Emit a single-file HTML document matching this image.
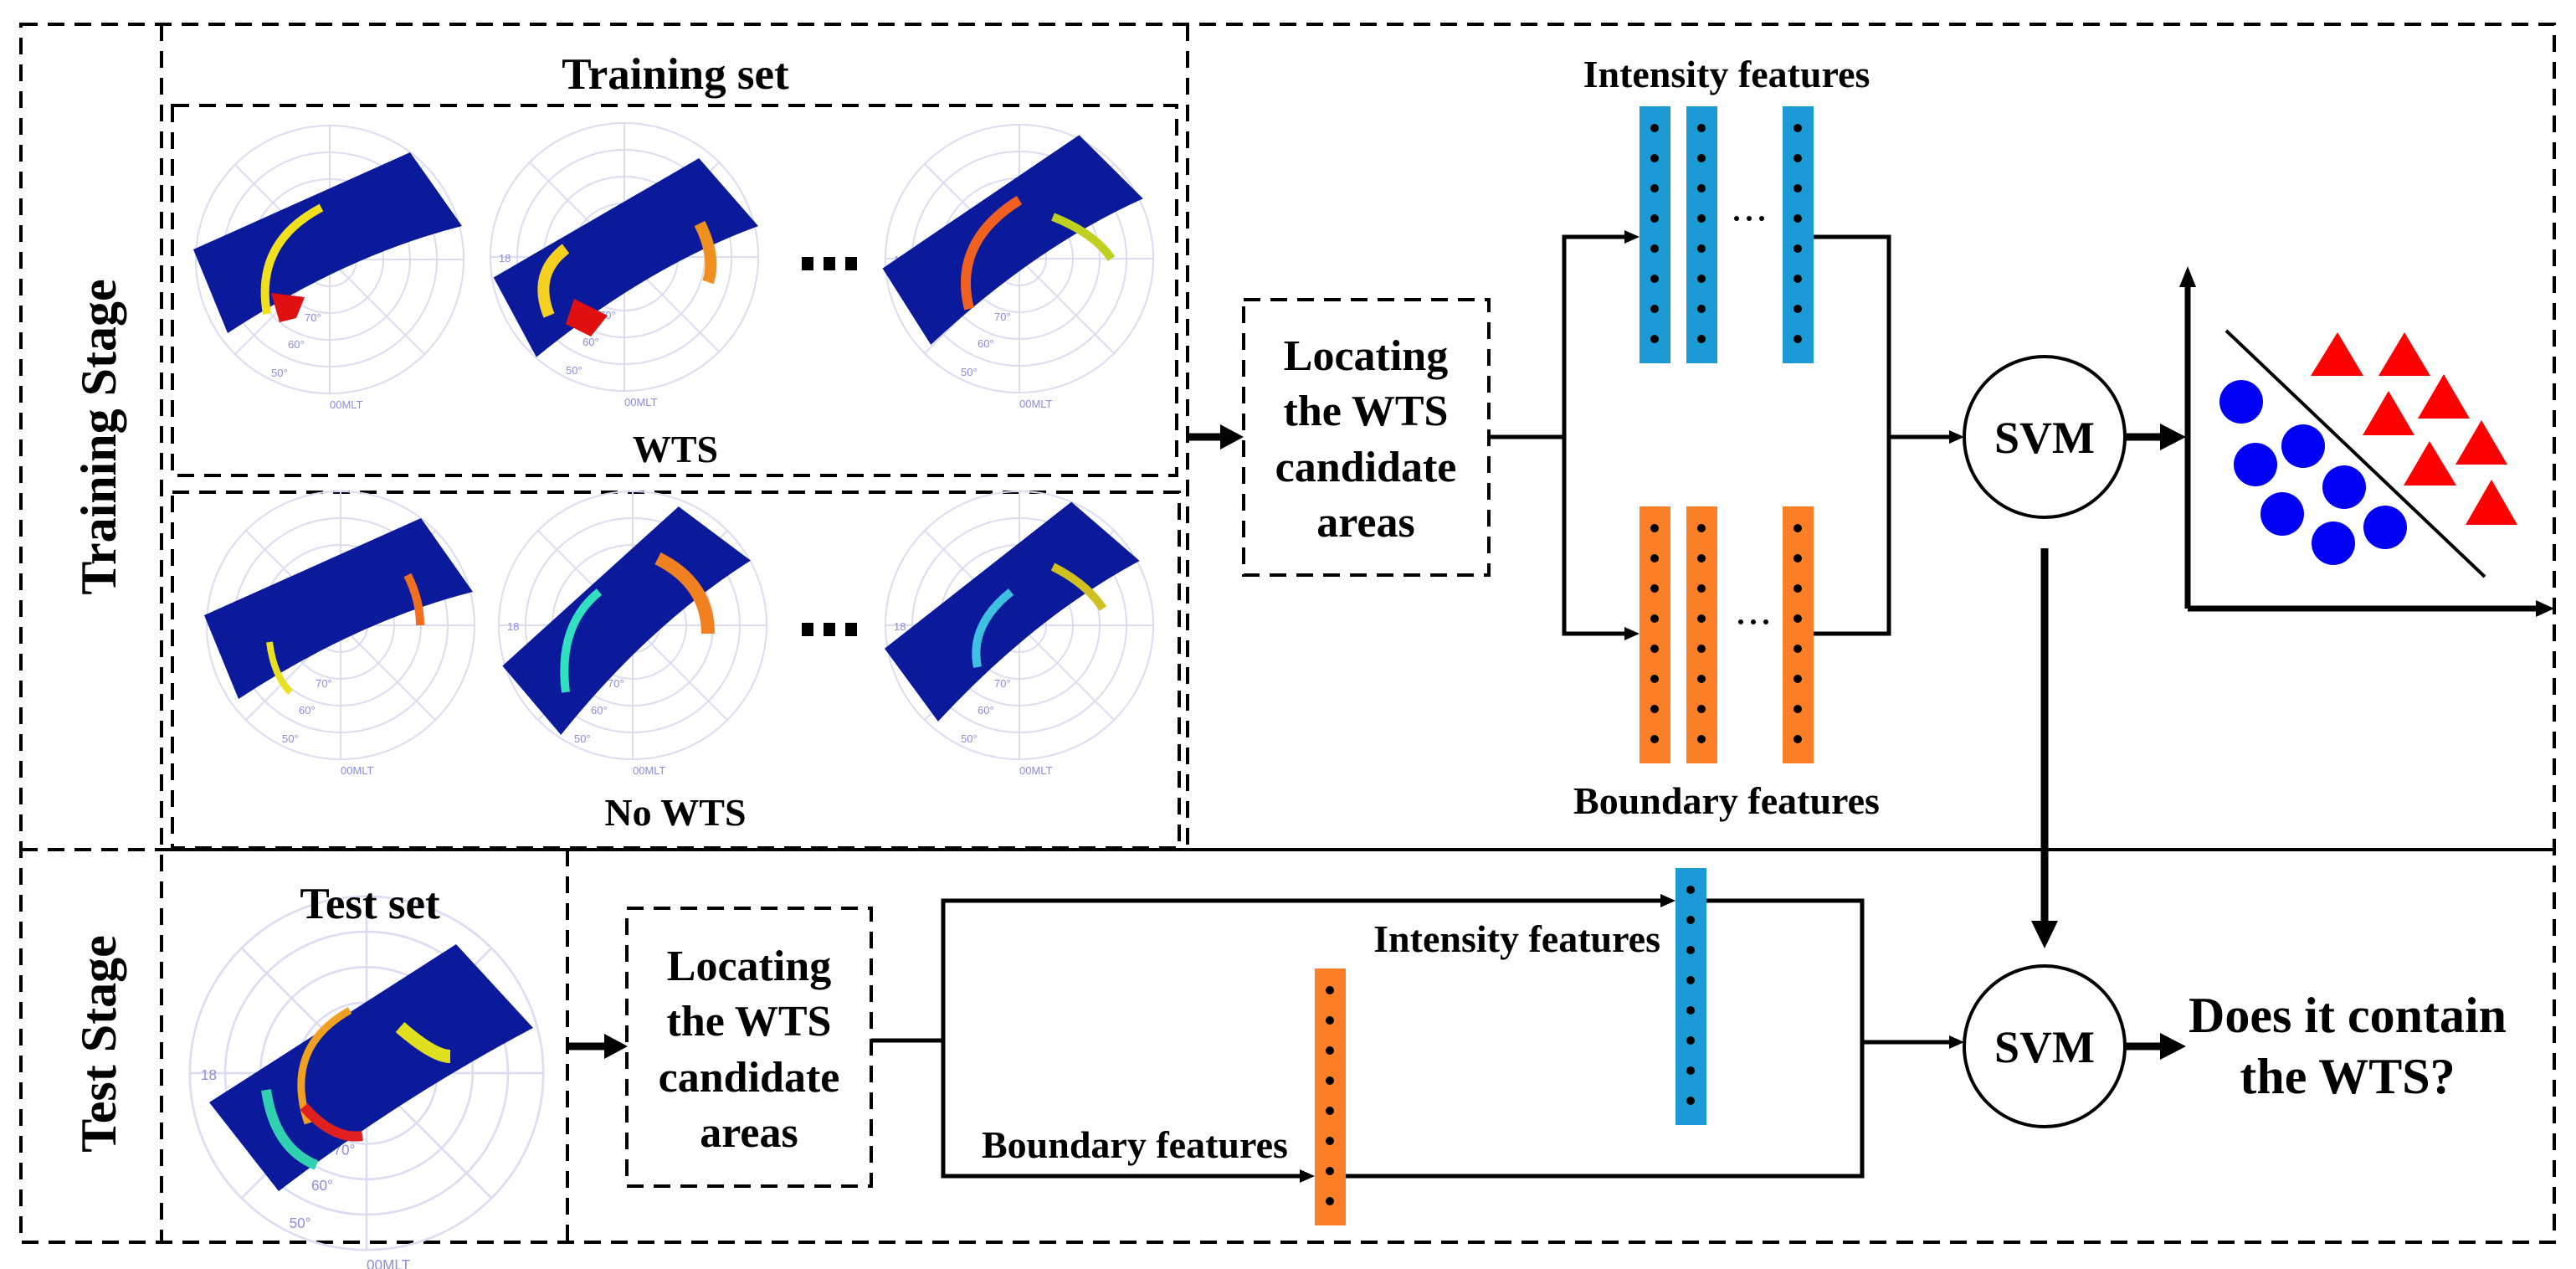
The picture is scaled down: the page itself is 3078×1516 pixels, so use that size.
<!DOCTYPE html>
<html><head><meta charset="utf-8"><style>
html,body{margin:0;padding:0;background:#fff}
svg{display:block}
text{font-family:"Liberation Serif",serif;font-weight:bold;fill:#000}
</style></head><body>
<svg width="3078" height="1516" viewBox="0 0 3078 1516" xmlns="http://www.w3.org/2000/svg">
<defs>
<g id="grid">
 <g fill="none" stroke="#dcdcf2" stroke-width="2">
  <circle r="160"/><circle r="128"/><circle r="96"/><circle r="64"/><circle r="32"/>
  <line x1="-160" y1="0" x2="160" y2="0"/><line x1="0" y1="-160" x2="0" y2="160"/>
  <line x1="-113" y1="-113" x2="113" y2="113"/><line x1="-113" y1="113" x2="113" y2="-113"/>
 </g>
 <text x="-150" y="6" font-size="13" style="fill:#8c8ce0;font-weight:normal;font-family:'Liberation Sans',sans-serif">18</text>
 <text x="0" y="178" font-size="13" style="fill:#8c8ce0;font-weight:normal;font-family:'Liberation Sans',sans-serif">00MLT</text>
 <text x="-70" y="140" font-size="13" style="fill:#8c8ce0;font-weight:normal;font-family:'Liberation Sans',sans-serif">50°</text>
 <text x="-50" y="106" font-size="13" style="fill:#8c8ce0;font-weight:normal;font-family:'Liberation Sans',sans-serif">60°</text>
 <text x="-30" y="74" font-size="13" style="fill:#8c8ce0;font-weight:normal;font-family:'Liberation Sans',sans-serif">70°</text>
</g>
<path id="band" d="M-163,-12 L96,-128 L158,-40 Q20,-5 -122,88 Z" fill="#0b1a9a"/>
<g id="dots"><circle cx="0" cy="26" r="5"/><circle cx="0" cy="62" r="5"/><circle cx="0" cy="98" r="5"/><circle cx="0" cy="134" r="5"/><circle cx="0" cy="170" r="5"/><circle cx="0" cy="206" r="5"/><circle cx="0" cy="242" r="5"/><circle cx="0" cy="278" r="5"/></g>
</defs>

<!-- outer borders -->
<g fill="none" stroke="#000" stroke-width="4" stroke-dasharray="20,12">
 <rect x="25" y="29" width="3027" height="1455"/>
 <line x1="193" y1="29" x2="193" y2="1484"/>
 <line x1="25" y1="1015" x2="193" y2="1015"/>
 <line x1="1419" y1="29" x2="1419" y2="1015"/>
 <rect x="206" y="126" width="1200" height="442"/>
 <rect x="206" y="588" width="1203" height="425"/>
 <line x1="678" y1="1015" x2="678" y2="1484"/>
 <rect x="1486" y="358" width="293" height="329"/>
 <rect x="749" y="1085" width="292" height="332"/>
</g>
<line x1="193" y1="1015" x2="3052" y2="1015" stroke="#000" stroke-width="4"/>

<!-- stage labels -->
<text transform="translate(138,522) rotate(-90)" font-size="60" text-anchor="middle">Training Stage</text>
<text transform="translate(138,1247) rotate(-90)" font-size="60" text-anchor="middle">Test Stage</text>

<text x="807" y="106" font-size="53" text-anchor="middle">Training set</text>
<text x="807" y="552" font-size="46" text-anchor="middle">WTS</text>
<text x="807" y="986" font-size="46" text-anchor="middle">No WTS</text>

<!-- images -->
<g transform="translate(394,310)"><use href="#grid"/><use href="#band"/>
 <path d="M-75,65 Q-90,-20 -10,-62" fill="none" stroke="#f0e020" stroke-width="10"/>
 <path d="M-70,40 L-30,45 L-40,70 L-60,75 Z" fill="#e01010"/></g>
<g transform="translate(746,307)"><use href="#grid"/><g transform="rotate(-6) translate(5,20)"><use href="#band"/></g>
 <path d="M-90,70 Q-110,20 -70,-10" fill="none" stroke="#f4d020" stroke-width="14"/>
 <path d="M-60,50 L-20,70 L-40,95 L-70,80 Z" fill="#e01010"/>
 <path d="M90,-40 Q110,0 100,30" fill="none" stroke="#f09020" stroke-width="14"/></g>
<g transform="translate(1218,309)"><use href="#grid"/><g transform="rotate(-10) translate(0,-5)"><use href="#band"/></g>
 <path d="M-60,60 Q-80,-20 0,-70" fill="none" stroke="#f06020" stroke-width="12"/>
 <path d="M40,-50 Q90,-30 110,0" fill="none" stroke="#c0d020" stroke-width="10"/></g>
<g transform="translate(407,747)"><use href="#grid"/><use href="#band"/>
 <path d="M-85,20 Q-80,60 -60,80" fill="none" stroke="#e8e020" stroke-width="8"/>
 <path d="M80,-60 Q95,-30 95,0" fill="none" stroke="#f07020" stroke-width="10"/></g>
<g transform="translate(756,747)"><use href="#grid"/><g transform="rotate(-18) translate(0,10)"><use href="#band"/></g>
 <path d="M-80,80 Q-90,0 -40,-40" fill="none" stroke="#30e0c0" stroke-width="10"/>
 <path d="M30,-80 Q90,-50 90,10" fill="none" stroke="#f08020" stroke-width="16"/></g>
<g transform="translate(1218,747)"><use href="#grid"/><g transform="rotate(-14)"><use href="#band"/></g>
 <path d="M-50,50 Q-60,0 -10,-40" fill="none" stroke="#40c0e0" stroke-width="10"/>
 <path d="M40,-70 Q80,-50 100,-20" fill="none" stroke="#d0c020" stroke-width="10"/></g>
<g transform="translate(438,1282)">
 <g transform="scale(1.32)"><use href="#grid"/></g>
 <path d="M-188,35 L107,-154 L199,-54 Q40,30 -105,141 Z" fill="#0b1a9a"/>
 <path d="M-70,60 Q-100,-30 -20,-75" fill="none" stroke="#f0a020" stroke-width="9"/>
 <path d="M-75,40 Q-40,80 -5,75" fill="none" stroke="#e02020" stroke-width="12"/>
 <path d="M-120,20 Q-110,90 -60,110" fill="none" stroke="#30d0b0" stroke-width="12"/>
 <path d="M40,-55 Q80,-20 100,-20" fill="none" stroke="#e0e020" stroke-width="16"/></g>
<text x="442" y="1097" font-size="53" text-anchor="middle">Test set</text>
<rect x="958" y="307" width="14" height="16" fill="#000"/><rect x="984" y="307" width="14" height="16" fill="#000"/><rect x="1010" y="307" width="14" height="16" fill="#000"/>
<rect x="958" y="744" width="14" height="16" fill="#000"/><rect x="984" y="744" width="14" height="16" fill="#000"/><rect x="1010" y="744" width="14" height="16" fill="#000"/>

<!-- locating boxes text -->
<g font-size="52" text-anchor="middle">
 <text x="1632" y="442">Locating</text><text x="1632" y="508">the WTS</text>
 <text x="1632" y="575">candidate</text><text x="1632" y="641">areas</text>
 <text x="895" y="1171">Locating</text><text x="895" y="1237">the WTS</text>
 <text x="895" y="1304">candidate</text><text x="895" y="1370">areas</text>
</g>

<!-- bars -->
<g fill="#1b9ad6"><rect x="1959" y="127" width="37" height="307"/><rect x="2015" y="127" width="37" height="307"/><rect x="2130" y="127" width="37" height="307"/><rect x="2002" y="1037" width="37" height="307"/></g>
<g fill="#fa7f26"><rect x="1959" y="605" width="37" height="307"/><rect x="2015" y="605" width="37" height="307"/><rect x="2130" y="605" width="37" height="307"/><rect x="1571" y="1157" width="37" height="307"/></g>
<g fill="#000">
<use href="#dots" x="1977" y="127"/><use href="#dots" x="2033" y="127"/><use href="#dots" x="2148" y="127"/>
<use href="#dots" x="1977" y="605"/><use href="#dots" x="2033" y="605"/><use href="#dots" x="2148" y="605"/>
<use href="#dots" x="2020" y="1037"/><use href="#dots" x="1589" y="1157"/>
<circle cx="2075" cy="261" r="3"/><circle cx="2090" cy="261" r="3"/><circle cx="2105" cy="261" r="3"/>
<circle cx="2080" cy="743" r="3"/><circle cx="2095" cy="743" r="3"/><circle cx="2110" cy="743" r="3"/>
</g>

<g font-size="46" text-anchor="middle">
 <text x="2063" y="104">Intensity features</text>
 <text x="2063" y="972">Boundary features</text>
 <text x="1984" y="1137" text-anchor="end">Intensity features</text>
 <text x="1173" y="1383" text-anchor="start">Boundary features</text>
</g>

<!-- connectors -->
<g stroke="#000" fill="none" stroke-width="5">
 <polyline points="1779,522 1869,522"/>
 <polyline points="1945,283 1869,283 1869,757 1945,757"/>
 <polyline points="2167,283 2257,283 2257,757 2167,757"/>
 <line x1="2257" y1="522" x2="2332" y2="522"/>
 <line x1="1041" y1="1243" x2="1127" y2="1243"/>
 <polyline points="1988,1076 1127,1076 1127,1405 1557,1405"/>
 <polyline points="2039,1076 2225,1076 2225,1405 1608,1405"/>
 <line x1="2225" y1="1245" x2="2332" y2="1245"/>
 <line x1="2660" y1="395" x2="2969" y2="689" stroke-width="4"/>
 <line x1="2614" y1="340" x2="2614" y2="727" stroke-width="7"/>
 <line x1="2614" y1="727" x2="3035" y2="727" stroke-width="7"/>
</g>
<g stroke="#000" stroke-width="9">
 <line x1="1419" y1="522" x2="1460" y2="522"/>
 <line x1="680" y1="1250" x2="722" y2="1250"/>
 <line x1="2541" y1="522" x2="2585" y2="522"/>
 <line x1="2541" y1="1250" x2="2585" y2="1250"/>
 <line x1="2443" y1="655" x2="2443" y2="1105"/>
</g>
<g fill="#000">
 <polygon points="1486,522 1458,507 1458,537"/>
 <polygon points="750,1250 722,1235 722,1265"/>
 <polygon points="2612,522 2581,506 2581,538"/>
 <polygon points="2612,1250 2581,1234 2581,1266"/>
 <polygon points="2443,1133 2427,1100 2459,1100"/>
 <polygon points="1959,283 1941,275 1941,291"/>
 <polygon points="1959,757 1941,749 1941,765"/>
 <polygon points="2347,522 2329,514 2329,530"/>
 <polygon points="2347,1245 2329,1237 2329,1253"/>
 <polygon points="2002,1076 1984,1068 1984,1084"/>
 <polygon points="1571,1405 1553,1397 1553,1413"/>
 <polygon points="2614,318 2604,343 2624,343"/>
 <polygon points="3052,727 3030,717 3030,737"/>
</g>

<!-- SVMs -->
<circle cx="2443" cy="522" r="96" fill="#fff" stroke="#000" stroke-width="4"/>
<circle cx="2443" cy="1250" r="96" fill="#fff" stroke="#000" stroke-width="4"/>
<text x="2443" y="541" font-size="54" text-anchor="middle">SVM</text>
<text x="2443" y="1269" font-size="54" text-anchor="middle">SVM</text>

<g font-size="60" text-anchor="middle">
 <text x="2805" y="1233">Does it contain</text>
 <text x="2805" y="1306">the WTS?</text>
</g>

<!-- scatter -->
<g fill="#0000f5">
 <ellipse cx="2678" cy="480" rx="26" ry="26"/><ellipse cx="2752" cy="533" rx="26" ry="26"/>
 <ellipse cx="2695" cy="555" rx="26" ry="26"/><ellipse cx="2801" cy="582" rx="26" ry="26"/>
 <ellipse cx="2727" cy="614" rx="26" ry="26"/><ellipse cx="2850" cy="630" rx="26" ry="26"/>
 <ellipse cx="2788" cy="649" rx="26" ry="26"/>
</g>
<g fill="#ff0000">
 <polygon points="2793,397 2761,449 2824,449"/>
 <polygon points="2873,397 2842,449 2904,449"/>
 <polygon points="2920,447 2889,500 2951,500"/>
 <polygon points="2854,467 2823,520 2885,520"/>
 <polygon points="2965,502 2934,555 2996,555"/>
 <polygon points="2903,527 2872,580 2935,580"/>
 <polygon points="2977,573 2946,627 3008,627"/>
</g>
</svg>
</body></html>
